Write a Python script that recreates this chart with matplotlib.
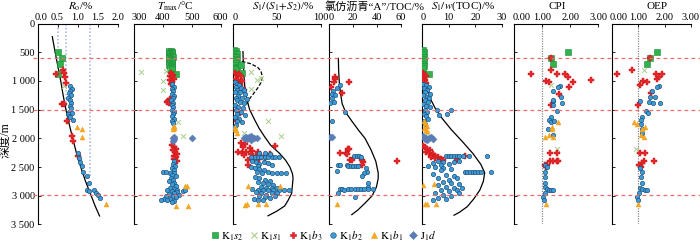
import matplotlib
matplotlib.use('Agg')
import matplotlib.pyplot as plt
from matplotlib.lines import Line2D
import matplotlib.transforms as mtransforms

plt.rcParams['font.family'] = ['Liberation Serif', 'Noto Sans CJK SC']
plt.rcParams['mathtext.fontset'] = 'stix'

# ---------------- data: (value, depth m) ----------------
RO_K1S2 = [(0.50, 497), (0.61, 595), (0.57, 700), (0.51, 880)]
RO_K1S1 = [(0.67, 1090)]
RO_K1B3 = [(0.47, 886), (0.63, 810), (0.67, 870), (0.69, 926), (0.72, 1030), (0.61, 1408), (0.66, 1400),
           (0.74, 1693), (0.87, 1960), (0.88, 2047), (1.00, 2302)]
RO_K1B2 = [(0.82, 1089), (0.85, 1141), (0.80, 1180), (0.78, 1216), (0.83, 1240), (0.77, 1290), (0.82, 1333),
           (0.84, 1391), (0.80, 1437), (0.83, 1480), (0.78, 1536), (0.86, 1553), (0.76, 1582), (0.79, 1610),
           (0.82, 1635), (0.88, 1681), (1.01, 2262), (1.04, 2340), (1.07, 2407), (1.10, 2477), (1.13, 2582),
           (1.23, 2657), (1.28, 2773), (1.23, 2900), (1.28, 2912), (1.42, 2900), (1.47, 2947), (1.52, 2988),
           (1.55, 3046)]
RO_K1B1 = [(0.98, 1809), (1.10, 1832), (1.11, 1971), (1.70, 3144)]
RO_CURVE = [(0.37, 229), (0.44, 500), (0.51, 750), (0.58, 1000), (0.64, 1250), (0.71, 1500), (0.79, 1750),
            (0.88, 2000), (0.97, 2250), (1.08, 2500), (1.20, 2750), (1.34, 3000), (1.44, 3180), (1.55, 3353)]
RO_REF_VALUES = [0.5, 0.7, 1.3]
RO_REF_ENDS = [700, 1500, 2670]

TMAX_K1S2 = [(421, 480), (428, 475), (432, 490), (422, 510), (430, 520), (420, 540), (432, 550), (426, 560),
             (424, 575), (434, 585), (420, 600), (428, 610), (432, 630), (422, 650), (430, 660), (425, 690),
             (433, 700), (421, 720), (428, 740), (432, 760), (424, 780), (430, 800), (445, 880)]
TMAX_K1S1 = [(324, 851), (411, 822), (402, 1002), (400, 1158), (453, 1710), (468, 1960)]
TMAX_K1B3 = [(428, 870), (434, 890), (424, 910), (430, 940), (437, 960), (426, 990), (433, 1020), (428, 1060),
             (424, 1320), (418, 1345), (413, 1370), (420, 1390), (432, 2120), (438, 2150), (444, 2180),
             (434, 2210), (442, 2240), (448, 2270), (437, 2300), (445, 2330), (439, 2360), (450, 2390)]
TMAX_K1B2 = [(433, 1060), (437, 1100), (431, 1140), (436, 1180), (432, 1220), (438, 1260), (434, 1300),
             (429, 1340), (435, 1380), (430, 1420), (436, 1460), (432, 1500), (438, 1540), (434, 1580),
             (431, 1620), (437, 1660), (433, 1700), (435, 1740), (440, 2400), (436, 2440), (442, 2480),
             (432, 2520), (438, 2560), (400, 2590), (412, 2595), (425, 2600), (440, 2610), (432, 2640),
             (445, 2660), (428, 2690), (436, 2720), (420, 2750), (440, 2780), (430, 2800), (446, 2830),
             (425, 2860), (438, 2880), (415, 2900), (450, 2900), (470, 2910), (478, 2905), (430, 2920),
             (450, 2940), (440, 2950), (420, 2970), (455, 2980), (435, 3000), (410, 3010), (445, 3030),
             (425, 3050), (405, 3060), (395, 3070), (415, 3080), (440, 3090), (430, 3110)]
TMAX_K1B1 = [(438, 1780), (436, 1800), (440, 1820), (434, 1840), (477, 2825), (482, 2825), (445, 3173),
             (486, 3173)]
TMAX_J1D = [(438, 1980), (436, 2000), (440, 2020), (434, 2040), (500, 2000)]

S12_K1S2 = [(1, 470), (3, 480), (2, 510), (4, 530), (1, 560), (3, 580), (2, 610), (4, 640), (1, 660), (3, 690),
            (2, 720), (4, 750), (1, 780), (3, 800), (9.5, 723), (10, 870)]
S12_K1S1 = [(20, 851), (27.8, 984), (32.4, 945), (20, 1147), (40, 1700), (54.5, 1955), (12.6, 1913)]
S12_K1B3 = [(2, 870), (4, 900), (7, 880), (9, 920), (3, 960), (6, 990), (10, 1010), (4, 1050), (8, 1080),
            (12, 1150), (8, 1560), (5, 1700), (9, 2090), (14, 2100), (11, 2160), (19, 2170), (6, 2230),
            (10, 2250), (15, 2230), (22, 2220), (28, 2230), (20, 2280), (26, 2310), (32, 2300), (24, 2350),
            (17, 2380), (30, 2360), (36, 2350), (42, 2280), (47.6, 2135), (17, 2465), (13, 2290)]
S12_K1B2 = [(2, 1020), (4, 1050), (7, 1080), (3, 1110), (9, 1120), (5, 1150), (12, 1160), (2, 1190), (8, 1200),
            (14, 1230), (6, 1260), (3, 1290), (10, 1300), (16, 1310), (4, 1340), (8, 1370), (13, 1390),
            (2, 1420), (6, 1450), (11, 1480), (3, 1510), (9, 1540), (5, 1570), (14, 1600), (2, 1630), (7, 1660),
            (4, 1700), (10, 1720), (3, 1760), (1, 1800),
            (21, 2320), (25, 2320), (28, 2320), (32, 2320), (36, 2320), (40, 2320), (44, 2320), (48, 2320),
            (52, 2320), (30, 2262), (36, 2262), (42, 2270), (22, 2400), (26, 2420), (30, 2440), (35, 2410),
            (40, 2430), (45, 2460), (28, 2480), (20, 2500), (25, 2520), (30, 2540), (35, 2560), (27, 2580),
            (33, 2600), (40, 2590), (45, 2600), (50, 2610), (55, 2610), (60, 2610), (25, 2680), (30, 2700),
            (36, 2720), (42, 2740), (28, 2760), (34, 2780), (40, 2800), (46, 2820), (32, 2840), (38, 2860),
            (44, 2870), (50, 2860), (22, 2890), (28, 2900), (34, 2900), (40, 2900), (46, 2900), (52, 2900),
            (58, 2900), (64, 2900), (26, 2940), (32, 2960), (38, 2980), (44, 2960), (50, 2950), (30, 3000),
            (36, 3020), (42, 3040), (48, 3010), (24, 3060), (34, 3080), (28.6, 3075)]
S12_K1B1 = [(2.6, 1797), (3.7, 1855), (4.5, 1900), (2, 1830), (17, 2825), (53.3, 2825), (13.3, 3162),
            (16, 3150), (28.6, 3150), (38, 3150)]
S12_J1D = [(12, 1990), (15, 1970), (18, 1980), (21, 1960), (24, 2000), (27, 2000), (16, 2020), (20, 2030),
           (14, 2000)]
S12_CURVE = [(11.4, 490), (11.8, 700), (12.4, 900), (13.5, 1100), (15.5, 1300), (19, 1500), (24.8, 1680),
             (30, 1830), (36, 1970), (43, 2120), (53, 2260), (60, 2380), (65, 2500), (68, 2620), (68.6, 2700),
             (68, 2800), (67, 2960), (63, 3080), (59, 3180), (50, 3270), (40, 3350)]
S12_DASH = [(10, 660), (20, 700), (28, 760), (32, 830), (33.5, 930), (32, 1030), (28, 1130), (23, 1230),
            (18, 1330), (15, 1420)]

CHL_K1B3 = [(4.7, 939), (5, 975), (4.4, 1013), (16.4, 1013), (1.7, 1100), (11.1, 1217), (15.6, 2193),
            (17, 2193), (9.2, 2262), (13.9, 2250), (14.7, 2275), (17.5, 2378), (19.4, 2378), (27.2, 2378),
            (28.5, 2420), (27.2, 2460), (56.4, 2390)]
CHL_K1B2 = [(9.2, 1077), (6.7, 1130), (3.6, 1176), (2.2, 1228), (5, 1245), (2.8, 1304), (4.4, 1362),
            (0.8, 1391), (13.3, 1536), (2.8, 1700), (7.2, 2465), (9.2, 2465), (6.4, 2564), (14.7, 2465),
            (16.1, 2477), (18.3, 2477), (20.3, 2477), (22.2, 2477), (24.4, 2477), (21, 2308), (23, 2308),
            (25.3, 2308), (26.7, 2330), (30.6, 2523), (31.4, 2580), (29.4, 2610), (27.2, 2660), (32.8, 2773),
            (32.8, 2842), (32.2, 2889), (9.2, 2889), (11.1, 2889), (16.1, 2889), (18.3, 2889), (21.7, 2889),
            (23.9, 2889), (26.7, 2889), (28.9, 2889), (36.9, 2889), (7.8, 2959), (21.7, 3017), (12.5, 2900)]
CHL_K1B1 = [(6.4, 3144)]
CHL_J1D = [(0.8, 1983), (2.2, 1983)]
CHL_CURVE = [(7.8, 607), (8, 800), (8.5, 1000), (9.5, 1200), (11, 1400), (14, 1550), (19, 1700), (25, 1870),
             (30, 2000), (35, 2200), (39, 2400), (41, 2600), (41, 2700), (39.5, 2850), (36, 3000), (30, 3130),
             (24, 3250), (19, 3330)]

SW_K1S2 = [(0.2, 470), (0.8, 500), (0.3, 540), (0.9, 580), (0.4, 620), (0.8, 660), (0.2, 700), (0.9, 740),
           (0.5, 780), (2.6, 880)]
SW_K1S1 = [(2.0, 1900)]
SW_K1B3 = [(0.3, 870), (0.8, 890), (1.5, 920), (0.5, 950), (1.2, 980), (0.4, 1010), (1.6, 1040), (0.3, 2130),
           (1, 2160), (2, 2190), (3, 2210), (1.5, 2240), (2.5, 2260), (4, 2280), (5, 2300), (3.5, 2320),
           (6, 2330), (5, 2350), (7.2, 2360), (8, 2380), (13, 2370), (16, 2310)]
SW_K1B2 = [(0.5, 1050), (1.5, 1080), (2.5, 1100), (0.8, 1130), (2, 1160), (1, 1200), (3, 1220), (0.5, 1250),
           (1.8, 1280), (2.8, 1300), (1, 1340), (2.2, 1370), (0.5, 1400), (1.5, 1430), (3, 1460), (1, 1500),
           (2, 1540), (0.6, 1580), (1.6, 1620), (2.4, 1660), (0.8, 1700), (1.2, 1750), (5.6, 1500),
           (6.5, 1600), (9.5, 1580), (11, 1510),
           (9, 2310), (10, 2310), (11, 2310), (12, 2310), (13, 2310), (14, 2310), (15.5, 2310), (17.5, 2310),
           (24.5, 2300), (4, 2430), (6, 2400), (8, 2420), (10, 2440), (12, 2420), (14, 2400), (7, 2460),
           (2.25, 2477), (16, 2580), (17, 2580), (18, 2580), (19, 2580), (20, 2580), (21, 2580), (22, 2580),
           (26, 2580), (5, 2500), (8, 2520), (11, 2540), (7, 2560), (4, 2620), (9, 2640), (12, 2660),
           (6, 2700), (10, 2720), (13, 2700), (8, 2760), (11, 2780), (14, 2800), (6, 2820), (9, 2850),
           (12, 2870), (15, 2860), (7, 2900), (10, 2920), (13, 2900), (5, 2960), (8, 2980), (11, 3000),
           (14, 2960), (6, 3040), (9, 3060), (4, 3080)]
SW_K1B1 = [(0.6, 1700), (1.2, 1740), (1.8, 1780), (0.8, 1820), (1.5, 1860), (2, 1880), (0.4, 2813), (4.5, 2800),
           (1, 3150), (2, 3150), (5.4, 3150)]
SW_J1D = [(0.5, 1960), (1.5, 1990), (2.5, 2000), (3.5, 1980), (4, 2010), (2, 2030), (1, 2010)]
SW_CURVE = [(1.25, 810), (1.5, 950), (2, 1100), (3, 1300), (5, 1480), (7.5, 1650), (11, 1850), (15, 2050),
            (19, 2260), (22, 2450), (23.5, 2600), (23, 2750), (21.7, 2900), (19.5, 3050), (17, 3190),
            (14, 3290), (12, 3340)]

CPI_K1S2 = [(1.32, 595), (1.37, 700), (1.92, 497)]
CPI_K1S1 = [(1.30, 1077), (1.54, 2186)]
CPI_K1B3 = [(1.32, 595), (1.32, 810), (0.58, 886), (1.51, 886), (1.81, 886), (1.12, 997), (1.24, 1020),
            (2.08, 1020), (1.93, 939), (2.74, 980), (1.60, 1228), (1.97, 1100), (1.30, 1420), (1.27, 2250),
            (1.51, 2262), (1.54, 2390), (1.27, 2390), (1.37, 2390), (1.57, 2390), (1.18, 2465), (1.13, 2494),
            (1.10, 2471)]
CPI_K1B2 = [(1.63, 1083), (1.55, 1112), (1.40, 1170), (1.66, 1286), (1.37, 1350), (1.40, 1335), (1.69, 1391),
            (1.37, 1420), (1.54, 1530), (1.30, 1623), (1.23, 1681), (1.30, 1716), (1.42, 1693), (1.20, 1844),
            (1.37, 1942), (1.10, 2471), (1.16, 2494), (1.11, 2587), (1.11, 2668), (1.08, 2773), (1.10, 2854),
            (1.16, 2889), (1.24, 2900), (1.32, 2900), (1.37, 2900), (1.08, 2959), (1.04, 3029), (1.06, 3075)]
CPI_K1B1 = [(1.55, 1716), (1.33, 1797), (1.36, 1838), (1.11, 1983), (1.23, 1942), (1.37, 1971), (1.12, 3150)]

OEP_K1S2 = [(1.72, 497), (1.44, 595), (1.32, 700)]
OEP_K1S1 = [(1.22, 810), (0.93, 2186)]
OEP_K1B3 = [(1.44, 595), (0.75, 810), (0.20, 886), (1.68, 880), (1.89, 886), (1.72, 974), (1.80, 940),
            (1.19, 1002), (1.32, 1013), (1.08, 1077), (1.47, 1217), (1.00, 1420), (1.08, 2262), (1.27, 2262),
            (1.60, 2390), (1.22, 2390), (1.16, 2430), (1.02, 2471), (1.12, 2494)]
OEP_K1B2 = [(1.78, 1083), (1.72, 1112), (1.53, 1170), (1.46, 1286), (1.65, 1286), (1.05, 1350), (1.40, 1362),
            (1.57, 1391), (1.84, 1391), (1.30, 1519), (1.37, 1553), (1.15, 1623), (1.10, 1681), (1.10, 1751),
            (1.15, 1838), (1.15, 1913), (1.08, 2517), (1.13, 2593), (1.11, 2668), (1.13, 2773), (1.05, 2870),
            (1.15, 2889), (1.26, 2900), (1.35, 2900), (1.02, 2959), (0.97, 3029), (0.98, 3075)]
OEP_K1B1 = [(0.84, 1716), (0.94, 1751), (1.26, 1809), (1.13, 1838), (1.10, 1942), (1.22, 1971), (1.00, 3150)]

BOUNDARY_DEPTHS = [600, 1500, 2990]
DEPTH_TICKS = [0, 500, 1000, 1500, 2000, 2500, 3000, 3500]
DEPTH_LABELS = ['0', '500', '1 000', '1 500', '2 000', '2 500', '3 000', '3 500']

# ---------------- styles ----------------
STYLE = {
    'K1s2': dict(marker='s', s=15, facecolor='#2fb34c', edgecolor='#1d8a35', linewidths=0.4),
    'K1s1': dict(marker='x', s=13, color='#a9cf8c', linewidths=0.7),
    'K1b3': dict(marker='P', s=15, facecolor='#e8262b', edgecolor='#c01818', linewidths=0.3),
    'K1b2': dict(marker='o', s=10, facecolor='#3d9bd6', edgecolor='#1c4d78', linewidths=0.45),
    'K1b1': dict(marker='^', s=13, facecolor='#f7a823', edgecolor='#f0a020', linewidths=0.3),
    'J1d': dict(marker='D', s=13, facecolor='#5a7db5', edgecolor='#5a7db5', linewidths=0.3),
}
LEG_LABELS = {
    'K1s2': r'$\mathrm{K}_1s_2$', 'K1s1': r'$\mathrm{K}_1s_1$', 'K1b3': r'$\mathrm{K}_1b_3$',
    'K1b2': r'$\mathrm{K}_1b_2$', 'K1b1': r'$\mathrm{K}_1b_1$', 'J1d': r'$\mathrm{J}_1d$',
}

W, H = 700, 243
fig = plt.figure(figsize=(W / 100, H / 100), dpi=100)

top_px, bot_px = 23.5, 224.4
panels = [
    # left px, right px, xlim max, bound lo, bound hi, ticks, labels, title, title center px, first-label shift px
    (37.5, 134, 2.41, 0, 2.0, [0, 0.5, 1.0, 1.5, 2.0], ['0.0', '0.5', '1.0', '1.5', '2.0'],
     r'$R_\mathrm{o}$/%', 81, 4),
    (134, 233, 642.6, 300, 600, [300, 400, 500, 600], ['300', '400', '500', '600'],
     r'$T_\mathrm{max}$/°C', 175, 5),
    (233, 329, 109.7, 0, 100, [0, 50, 100], ['0', '50', '100'],
     r'$S_1/(S_1\!+\!S_2)$/%', 283, 2),
    (329, 422, 77.5, 0, 60, [0, 20, 40, 60], ['0', '20', '40', '60'],
     '氯仿沥青“A”/TOC/%', 374, 2),
    (422, 514.3, 34.6, 0, 30, [0, 10, 20, 30], ['0', '10', '20', '30'],
     r'$S_1/w$(TOC)/%', 463, 1),
    (514.3, 612, 3.49, 0, 3, [0, 1, 2, 3], ['0.00', '1.00', '2.00', '3.00'], 'CPI', 557, 7),
    (612, 700, 3.35, 0, 3, [0, 1, 2, 3], ['0.00', '1.00', '2.00', '3.00'], 'OEP', 657, 7),
]

axes = []
for (lpx, rpx, xmax, b0, b1, ticks, labels, title, tcx, shift) in panels:
    ax = fig.add_axes([lpx / W, 1 - bot_px / H, (rpx - lpx) / W, (bot_px - top_px) / H])
    ax.set_facecolor('none')
    xmin = 300 if b0 == 300 else 0
    ax.set_xlim(xmin, xmax)
    ax.set_ylim(3500, 0)
    for sp in ['right', 'bottom']:
        ax.spines[sp].set_visible(False)
    ax.spines['top'].set_bounds(b0, b1)
    ax.spines['top'].set_linewidth(0.8)
    ax.spines['left'].set_linewidth(0.8)
    ax.xaxis.tick_top()
    ax.set_xticks(ticks)
    ax.set_xticklabels(labels)
    ax.tick_params(axis='x', direction='in', length=2, width=0.6, pad=1.0, labelsize=7.5)
    first = ax.get_xticklabels()[0]
    first.set_transform(first.get_transform() +
                        mtransforms.ScaledTranslation(shift / 100, 0, fig.dpi_scale_trans))
    ax.set_yticks(DEPTH_TICKS)
    ax.tick_params(axis='y', direction='in', length=2, width=0.6, labelsize=7.5, pad=2)
    if not axes:
        ax.set_yticklabels(DEPTH_LABELS)
    else:
        ax.set_yticklabels([])
    fig.text(tcx / W, 1 - 6.5 / H, title, ha='center', va='center', fontsize=8)
    axes.append(ax)

ax_ro, ax_t, ax_s12, ax_chl, ax_sw, ax_cpi, ax_oep = axes

# boundary lines across figure
trans = mtransforms.blended_transform_factory(fig.transFigure, ax_ro.transData)
for d in BOUNDARY_DEPTHS:
    fig.add_artist(Line2D([33 / W, 1.0], [d, d], transform=trans, color='#f26a6a', lw=0.9,
                          dashes=(3, 2.6), zorder=0.5))


def pts(ax, data, key):
    if not data:
        return
    xs = [p[0] for p in data]
    ys = [p[1] for p in data]
    ax.scatter(xs, ys, zorder=3, **STYLE[key])


def curve(ax, data, **kw):
    ax.plot([p[0] for p in data], [p[1] for p in data], color='black', lw=0.9, zorder=2, **kw)


# Ro
for v, e in zip(RO_REF_VALUES, RO_REF_ENDS):
    ax_ro.plot([v, v], [0, e], color='#a9bfe3', lw=1.2, linestyle=(0, (1, 1.2)), zorder=1)
curve(ax_ro, RO_CURVE)
for data, key in [(RO_K1S2, 'K1s2'), (RO_K1S1, 'K1s1'), (RO_K1B3, 'K1b3'), (RO_K1B2, 'K1b2'),
                  (RO_K1B1, 'K1b1')]:
    pts(ax_ro, data, key)

for data, key in [(TMAX_K1S2, 'K1s2'), (TMAX_K1S1, 'K1s1'), (TMAX_K1B3, 'K1b3'), (TMAX_K1B2, 'K1b2'),
                  (TMAX_K1B1, 'K1b1'), (TMAX_J1D, 'J1d')]:
    pts(ax_t, data, key)

curve(ax_s12, S12_CURVE)
curve(ax_s12, S12_DASH, linestyle=(0, (3, 1.5)))
for data, key in [(S12_K1S2, 'K1s2'), (S12_K1S1, 'K1s1'), (S12_K1B3, 'K1b3'), (S12_K1B2, 'K1b2'),
                  (S12_K1B1, 'K1b1'), (S12_J1D, 'J1d')]:
    pts(ax_s12, data, key)

curve(ax_chl, CHL_CURVE)
for data, key in [(CHL_K1B3, 'K1b3'), (CHL_K1B2, 'K1b2'), (CHL_K1B1, 'K1b1'), (CHL_J1D, 'J1d')]:
    pts(ax_chl, data, key)

curve(ax_sw, SW_CURVE)
for data, key in [(SW_K1S2, 'K1s2'), (SW_K1S1, 'K1s1'), (SW_K1B3, 'K1b3'), (SW_K1B2, 'K1b2'),
                  (SW_K1B1, 'K1b1'), (SW_J1D, 'J1d')]:
    pts(ax_sw, data, key)

for ax in (ax_cpi, ax_oep):
    ax.axvline(1.0, color='#888888', lw=0.9, linestyle=(0, (1, 1)), zorder=1)
for data, key in [(CPI_K1S2, 'K1s2'), (CPI_K1S1, 'K1s1'), (CPI_K1B3, 'K1b3'), (CPI_K1B2, 'K1b2'),
                  (CPI_K1B1, 'K1b1')]:
    pts(ax_cpi, data, key)
for data, key in [(OEP_K1S2, 'K1s2'), (OEP_K1S1, 'K1s1'), (OEP_K1B3, 'K1b3'), (OEP_K1B2, 'K1b2'),
                  (OEP_K1B1, 'K1b1')]:
    pts(ax_oep, data, key)

# y label
fig.text(5.5 / W, 1 - 140 / H, '深度/m', rotation=90, ha='center', va='center', fontsize=8.5)

# legend
handles = []
for key in ['K1s2', 'K1s1', 'K1b3', 'K1b2', 'K1b1', 'J1d']:
    st = STYLE[key]
    kw = dict(marker=st['marker'], linestyle='none', markersize=4)
    if key == 'K1s1':
        kw.update(color=st['color'], markeredgewidth=0.8)
    else:
        kw.update(markerfacecolor=st['facecolor'], markeredgecolor=st['edgecolor'], markeredgewidth=0.4)
    handles.append(Line2D([0], [0], label=LEG_LABELS[key], **kw))
fig.legend(handles=handles, loc='center', bbox_to_anchor=(323 / W, 1 - 236 / H), ncol=6, frameon=False,
           fontsize=8, handletextpad=0.1, columnspacing=0.5, handlelength=0.9, borderpad=0, borderaxespad=0)

fig.savefig('out.png', dpi=100)
